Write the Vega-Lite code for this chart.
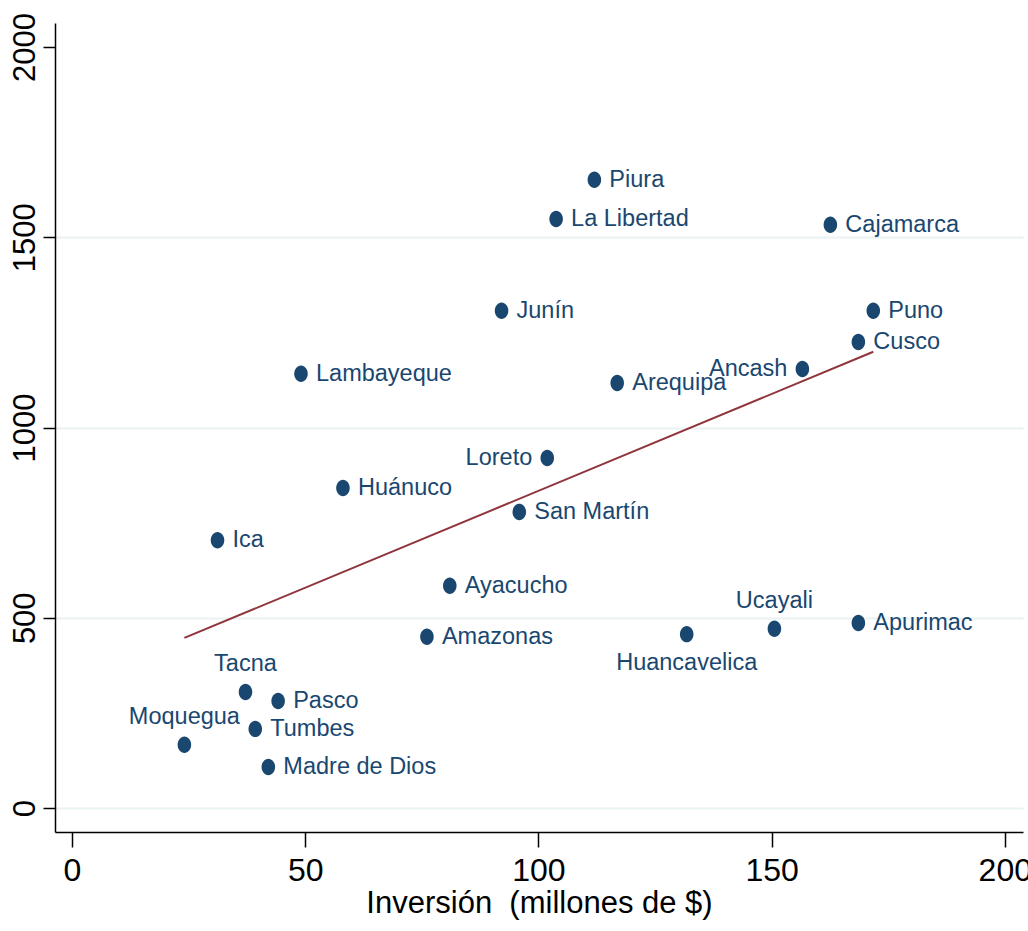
{
  "$schema": "https://vega.github.io/schema/vega-lite/v6.json",
  "width": 968,
  "height": 809,
  "autosize": {"type": "none"},
  "padding": {"left": 55, "top": 23, "right": 5, "bottom": 99},
  "background": "white",
  "config": {
    "view": {"stroke": null},
    "font": "Liberation Sans",
    "axis": {"domainColor": "black", "domainWidth": 1.5, "tickColor": "black", "tickWidth": 1.5, "labelColor": "black", "titleColor": "black", "labelFont": "Liberation Sans", "titleFont": "Liberation Sans", "titleFontWeight": "normal"}
  },
  "datasets": {
    "regiones": [
      {"region": "Piura", "inversion": 112.0, "valor": 1651},
      {"region": "La Libertad", "inversion": 103.8, "valor": 1548},
      {"region": "Cajamarca", "inversion": 162.6, "valor": 1533},
      {"region": "Junín", "inversion": 92.1, "valor": 1307},
      {"region": "Puno", "inversion": 171.8, "valor": 1307},
      {"region": "Cusco", "inversion": 168.6, "valor": 1225},
      {"region": "Ancash", "inversion": 156.6, "valor": 1154},
      {"region": "Arequipa", "inversion": 116.9, "valor": 1117},
      {"region": "Lambayeque", "inversion": 49.1, "valor": 1141},
      {"region": "Loreto", "inversion": 101.9, "valor": 920},
      {"region": "Huánuco", "inversion": 58.1, "valor": 841},
      {"region": "San Martín", "inversion": 95.9, "valor": 778},
      {"region": "Ica", "inversion": 31.2, "valor": 704},
      {"region": "Ayacucho", "inversion": 81.0, "valor": 584},
      {"region": "Amazonas", "inversion": 76.1, "valor": 450},
      {"region": "Huancavelica", "inversion": 131.8, "valor": 457},
      {"region": "Ucayali", "inversion": 150.6, "valor": 471},
      {"region": "Apurimac", "inversion": 168.6, "valor": 486},
      {"region": "Tacna", "inversion": 37.2, "valor": 305},
      {"region": "Pasco", "inversion": 44.2, "valor": 281},
      {"region": "Tumbes", "inversion": 39.3, "valor": 208},
      {"region": "Moquegua", "inversion": 24.1, "valor": 166},
      {"region": "Madre de Dios", "inversion": 42.1, "valor": 108}
    ],
    "ajuste": [
      {"inversion": 24.1, "valor": 447},
      {"inversion": 171.8, "valor": 1199}
    ]
  },
  "data": {"name": "regiones"},
  "layer": [
    {
      "data": {"name": "ajuste"},
      "mark": {"type": "line", "color": "#90353b", "strokeWidth": 2},
      "encoding": {
        "x": {"field": "inversion", "type": "quantitative",
          "scale": {"domain": [-3.64, 203.9], "nice": false, "zero": false},
          "axis": {"values": [0, 50, 100, 150, 200], "grid": false, "tickSize": 15, "labelFontSize": 32, "labelPadding": 8, "title": "Inversión\u00a0 (millones de $)", "titleFontSize": 31, "titlePadding": 2}},
        "y": {"field": "valor", "type": "quantitative",
          "scale": {"domain": [-63, 2063], "nice": false, "zero": false},
          "axis": {"values": [0, 500, 1000, 1500, 2000], "format": "d", "grid": true, "gridColor": "#eaf2f3", "gridWidth": 2, "gridOpacity": {"condition": {"test": "datum.value === 2000", "value": 0}, "value": 1}, "tickSize": 12, "labelFontSize": 31, "labelAngle": -90, "labelPadding": 2, "title": null}}
      }
    },
    {
      "mark": {"type": "point", "filled": true, "opacity": 1, "color": "#1a476f", "size": 272, "shape": "M -0.82,0 A 0.82,1 0 1,1 0.82,0 A 0.82,1 0 1,1 -0.82,0 Z"},
      "encoding": {
        "x": {"field": "inversion", "type": "quantitative"},
        "y": {"field": "valor", "type": "quantitative"}
      }
    },
    {
      "transform": [{"filter": {"not": {"field": "region", "oneOf": ["Loreto", "Ancash", "Ucayali", "Tacna", "Moquegua", "Huancavelica"]}}}],
      "mark": {"type": "text", "align": "left", "baseline": "middle", "dx": 15, "fontSize": 23.5, "color": "#1a476f"},
      "encoding": {
        "x": {"field": "inversion", "type": "quantitative"},
        "y": {"field": "valor", "type": "quantitative"},
        "text": {"field": "region"}
      }
    },
    {
      "transform": [{"filter": {"field": "region", "oneOf": ["Loreto", "Ancash"]}}],
      "mark": {"type": "text", "align": "right", "baseline": "middle", "dx": -15, "fontSize": 23.5, "color": "#1a476f"},
      "encoding": {
        "x": {"field": "inversion", "type": "quantitative"},
        "y": {"field": "valor", "type": "quantitative"},
        "text": {"field": "region"}
      }
    },
    {
      "transform": [{"filter": {"field": "region", "oneOf": ["Ucayali", "Tacna", "Moquegua"]}}],
      "mark": {"type": "text", "align": "center", "baseline": "alphabetic", "dy": -21, "fontSize": 23.5, "color": "#1a476f"},
      "encoding": {
        "x": {"field": "inversion", "type": "quantitative"},
        "y": {"field": "valor", "type": "quantitative"},
        "text": {"field": "region"}
      }
    },
    {
      "transform": [{"filter": {"field": "region", "oneOf": ["Huancavelica"]}}],
      "mark": {"type": "text", "align": "center", "baseline": "top", "dy": 17, "fontSize": 23.5, "color": "#1a476f"},
      "encoding": {
        "x": {"field": "inversion", "type": "quantitative"},
        "y": {"field": "valor", "type": "quantitative"},
        "text": {"field": "region"}
      }
    }
  ]
}
